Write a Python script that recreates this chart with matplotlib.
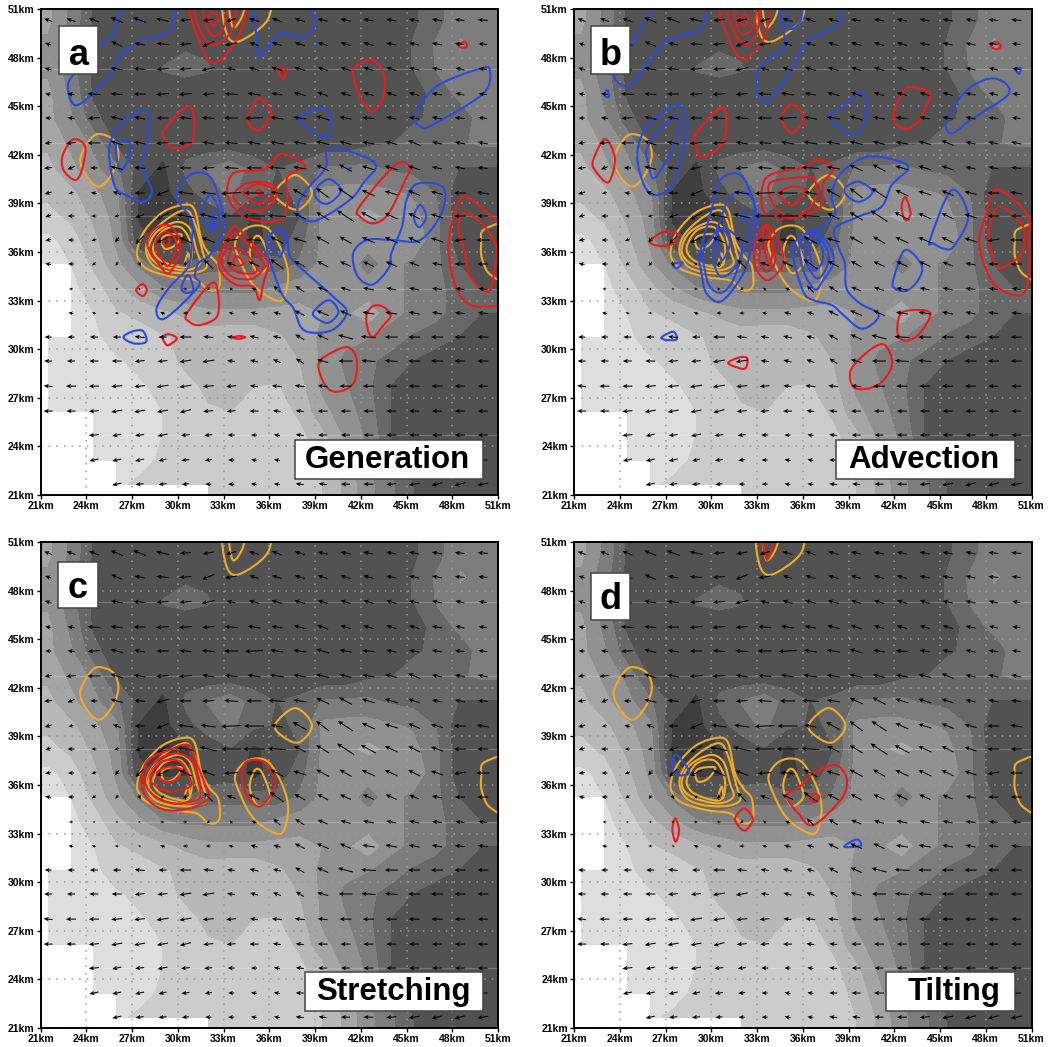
import numpy as np
import matplotlib
matplotlib.use("Agg")
import matplotlib.pyplot as plt
from matplotlib.colors import ListedColormap, BoundaryNorm
from matplotlib.patches import PathPatch, Rectangle
from matplotlib.path import Path

n = np.nan

# grid points of the field and the wind arrows (km)
x_km = [21.5, 23, 24.5, 26, 27.5, 29, 30.5, 32, 33.5, 35, 36.5, 38, 39.5, 41, 42.5, 44, 45.5, 47, 48.5, 50]
y_km = [50.32, 48.84, 47.3, 45.75, 44.27, 42.73, 41.19, 39.64, 38.22, 36.74,
        35.26, 33.72, 32.23, 30.75, 29.27, 27.72, 26.18, 24.7, 23.16, 21.67]
tick_km = [21, 24, 27, 30, 33, 36, 39, 42, 45, 48, 51]
tick_labels = ["21km", "24km", "27km", "30km", "33km", "36km", "39km", "42km", "45km", "48km", "51km"]

# shaded field, one row per y_km, larger is darker
field = [
    [4.5, 6, 7.6, 8, 8, 8, 8, 8, 8, 8, 8, 8, 8, 8, 8, 8, 7.6, 7, 6, 6],
    [5, 6.3, 7.7, 8, 8, 8, 7.6, 7.7, 8, 8, 8, 8, 8, 8, 8, 8, 7.4, 6.5, 5.7, 6],
    [5, 6.3, 7.7, 8, 8, 7.4, 7.2, 7.4, 8, 8, 8, 8, 8, 8, 8, 8, 7.4, 6.6, 6, 6.2],
    [4.5, 6, 7.6, 8, 8, 8, 8, 8, 8, 8, 8, 8, 8, 8, 8, 8, 8, 7, 6.5, 6.5],
    [4.5, 5.6, 7.2, 8, 8, 8, 8, 8, 8, 8, 8, 8, 8, 8, 8, 8, 7.6, 7.3, 7, 6.4],
    [4, 5, 6, 7.6, 8, 8, 8, 8, 8, 8, 8, 8, 8, 8, 7.6, 7.5, 7, 7, 6.8, 6.5],
    [3.5, 4.5, 5.5, 6.5, 7.8, 8.8, 7.2, 6.6, 6.1, 7, 7.5, 7.3, 6.6, 6.5, 6.5, 6.8, 7, 7, 7.5, 7.5],
    [3, 3.5, 4.5, 5.5, 8.7, 9, 7.8, 7, 6.5, 7.2, 7.6, 7.4, 5.5, 5.4, 5.4, 5.6, 5.9, 6.7, 8, 8],
    [2.5, 3, 4, 5.2, 8.8, 9, 8.7, 8, 7.5, 8.8, 8, 7.5, 5.5, 5, 4.5, 5, 5.5, 6.5, 8, 8],
    [1.8, 2.3, 3.5, 5, 8.2, 8.8, 8.7, 8, 7.8, 9, 8, 7, 5.5, 5.5, 5.5, 5, 5, 6.5, 8, 8],
    [1.5, 2, 3, 4.5, 6, 7.5, 7.5, 7, 7, 7, 7.2, 6.5, 5.5, 5.5, 6, 5.5, 6, 6.5, 7.5, 8],
    [n, 1.8, 2.3, 3.4, 4.5, 5.5, 6, 6, 6, 6, 5.5, 5.2, 5, 5, 5.5, 5.5, 6, 6.5, 7, 7.5],
    [n, 1.7, 2, 2.7, 3, 3.5, 4, 4.5, 4.5, 4.5, 4.5, 4.5, 4.8, 5, 4, 5.5, 6, 6.5, 7, 7.5],
    [1.5, 1.5, 1.8, 2.4, 2.4, 2.7, 3, 3.2, 3, 3, 3.6, 4.2, 5, 5.5, 5.7, 6.2, 6.8, 7, 7.5, 8],
    [1.5, 1.5, 1.6, 1.9, 2.2, 2.4, 3, 3.3, 3.4, 3.4, 3.5, 3.8, 5, 6, 6.5, 7, 7.5, 8, 8, 8.2],
    [1.5, 1.5, 1.5, 1.7, 1.9, 2.2, 2.5, 3, 3.3, 2.8, 2.7, 3.4, 5, 5.7, 6.5, 7.5, 8, 8, 8, 8.2],
    [1.5, 1.5, 1.5, 1.5, 1.7, 2, 2.3, 2.7, 2.8, 2.4, 2.3, 3, 4.5, 5.3, 6.3, 7.5, 8.2, 8.2, 8.2, 8.2],
    [n, n, 1.5, 1.5, 1.6, 2, 2.3, 2.5, 2.5, 2.3, 2.2, 2.5, 3.5, 5, 6, 7.5, 8.2, 8.2, 8.2, 8.2],
    [n, n, 1.7, 1.7, 1.8, 2.1, 2.2, 2.5, 2.5, 2.3, 2.2, 2.4, 3, 4.5, 5.8, 7, 8, 8.2, 8.2, 8.2],
    [n, n, n, 1.9, 2.1, 2.2, 2.3, 2.5, 2.5, 2.3, 2.2, 2.3, 2.8, 4, 5.5, 6.5, 7.5, 8, 8, 8],
]
blank_left_rows = [14, 15]
blank_bottom_cols = [3, 4, 5, 6]
field_levels = [0, 2, 2.8, 3.8, 4.8, 5.8, 6.7, 7.5, 8.6, 10]
field_grays = ["#dedede", "#cccccc", "#b8b8b8", "#a5a5a5", "#919191", "#7d7d7d", "#686868", "#525252", "#3e3e3e"]

# wind arrows, in picture pixels
wind_u = [
    [-8, -9, -10, -12, -13, -13, -11, -11, -10, -10, -10, -10, -10, -10, -10, -10, -10, -10, -10, -10],
    [-6, -8, -10, -11, -10, -12, -12, -12, -12, -9, -10, -10, -10, -10, -10, -10, -10, -10, -10, -9],
    [-7, -7, -9, -12, -12, -12, -12, -13, -9, -10, -11, -11, -10, -10, -10, -10, -10, -10, -9, -8],
    [-6, -7, -13, -12, -12, -13, -13, -12, -13, -13, -11, -12, -11, -10, -10, -10, -10, -10, -9, -8],
    [-6, -7, -12, -12, -11, -12, -12, -13, -14, -18, -13, -13, -13, -12, -12, -10, -10, -10, -10, -9],
    [-7, -10, -13, -12, -12, -13, -13, -12, -13, -13, -14, -13, -13, -12, -12, -12, -12, -10, -10, -10],
    [-8, -7, -7, -12, -11, -12, -12, -12, -14, -15, -17, -13, -13, -13, -13, -13, -12, -10, -10, -10],
    [-7, -5, -6, -8, -10, -12, -15, -15, -20, -20, -12, -14, -13, -15, -13, -13, -12, -12, -12, -12],
    [-6, -7, -5, -5, -9, -12, -17, -17, -20, -22, -18, -12, -13, -17, -15, -13, -12, -12, -12, -11],
    [-6, -6, -5, -4, -8, -12, -13, -13, -14, -14, -13, -13, -13, -12, -13, -13, -12, -12, -12, -13],
    [-6, -6, -4, -3, 2, 3, 0, -9, -9, -11, -14, -11, -11, -11, -11, -11, -10, -10, -10, -11],
    [n, -4, -3, -3, 3, 4, 4, -3, -3, -5, -7, -9, -10, -10, -11, -10, -10, -10, -9, -9],
    [n, -5, -4, -4, -3, -5, -5, -5, -5, -7, -7, -10, -12, -11, -12, -12, -11, -10, -10, -10],
    [-7, -7, -8, -8, -10, -8, -12, -10, -8, -9, -8, -9, -11, -15, -15, -13, -12, -12, -11, -11],
    [-8, -8, -9, -10, -10, -10, -12, -12, -8, -8, -8, -8, -11, -14, -14, -13, -12, -12, -11, -11],
    [-9, -10, -10, -11, -11, -12, -12, -11, -10, -8, -10, -10, -10, -12, -11, -11, -11, -11, -10, -10],
    [-9, -9, -10, -11, -11, -11, -11, -10, -9, -9, -8, -8, -10, -10, -10, -10, -10, -10, -10, -10],
    [n, n, -10, -9, -9, -10, -9, -8, -7, -6, -6, -8, -9, -9, -10, -10, -10, -10, -10, -10],
    [n, n, -9, -9, -9, -8, -8, -7, -6, -6, -6, -8, -9, -10, -10, -10, -10, -10, -10, -10],
    [n, n, n, -9, -8, -8, -7, -6, -6, -6, -6, -8, -8, -9, -10, -10, -11, -11, -11, -11],
]
wind_v = [
    [3, 3, 4, 5, 5, 3, -1, -2, -3, 3, 4, 3, 2, 2, 2, 2, 2, 2, 1, 1],
    [2, 2, 3, 5, 2, 1, -1, -5, -2, 3, 3, 3, 3, 3, 3, 2, 2, 2, 1, 1],
    [2, 2, 2, 2, 1, -1, -1, -3, 2, 3, 3, 3, 3, 3, 3, 3, 2, 2, 2, 1],
    [1, 1, 1, 1, 0, -1, -1, -1, 1, 2, 2, 3, 4, 3, 3, 3, 3, 2, 2, 1],
    [0, 1, -1, 3, 2, 0, 1, 1, 0, -1, 2, 2, 4, 2, 1, 2, 2, 2, 1, 1],
    [-1, -1, 0, 4, 2, -1, -1, 2, 1, 2, 2, 2, 3, 3, 2, 3, 5, 2, 2, 2],
    [-1, -3, 0, 3, 1, -3, 0, -1, 1, 0, 1, 2, 6, 7, 4, 4, 4, 2, 2, 1],
    [-2, -1, 1, 3, 0, -5, 2, 2, -1, 0, 2, 8, 10, 10, 6, 4, 5, 3, 0, 2],
    [-2, 0, 0, -1, -3, -7, 3, 4, 0, 0, 1, 6, 8, 11, 8, 6, 6, 4, 0, 0],
    [-1, 0, -2, -5, -8, -6, 6, 5, -1, 1, 7, 4, 7, 7, 6, 6, 6, 4, -2, 0],
    [1, 0, -3, -4, -5, 3, 6, 9, 3, 5, 10, 6, 6, 5, 5, 5, 4, 2, 0, 0],
    [n, 0, 0, 0, 0, 0, 0, -3, 3, 2, 7, 6, 4, 3, 2, 2, 2, 1, 1, 1],
    [n, 1, 1, 0, 1, 2, 0, 0, 1, 2, 2, 5, 5, 5, 2, 2, 2, 2, 1, 1],
    [0, 0, 0, 0, 1, 0, 0, 1, 1, 2, 2, 5, 5, 4, 1, 0, 0, 0, 0, 0],
    [0, 0, 0, 0, -1, -1, -2, -2, 1, 2, 3, 5, 3, 0, 1, 1, 0, 0, 0, 0],
    [1, 0, 0, -1, -1, -2, -2, -1, -1, 1, 1, 1, 1, 0, 0, 0, 0, 0, 0, 0],
    [0, 0, -1, -2, -2, -2, -3, -1, -1, 0, 1, 1, 0, 0, 0, 0, 0, 0, 0, 0],
    [n, n, -1, -2, -1, -2, -1, -1, 0, 0, 1, 1, 0, 0, 0, 0, 0, 0, 0, 0],
    [n, n, -2, -2, -2, -2, -1, -1, 0, 1, 1, 0, 0, 0, 0, 0, 0, 0, 0, 0],
    [n, n, n, -2, -1, -1, -1, 0, 0, 1, 1, 1, 1, 0, 0, -1, -2, -3, -3, -2],
]

# orange contours are the same in all four panels: ([x km], [y km])
orange_rings = [
    ([27.34, 27.84, 29.05, 30.47, 31.12, 31.56, 32.11, 32.65, 32.76, 32.43, 31.89, 31.23, 29.7, 28.17, 27.52],
     [36.1, 37.33, 38.47, 38.92, 38.57, 36.72, 35.79, 35.17, 34.04, 33.63, 33.73, 34.25, 34.45, 34.87, 35.38]),
    ([27.91, 28.28, 29.48, 30.58, 31.12, 31.67, 31.89, 31.01, 29.48, 28.39],
     [36.1, 37.13, 38.16, 38.57, 37.75, 35.9, 35.07, 34.7, 34.76, 35.17]),
    ([28.06, 28.61, 29.92, 30.79, 31.23, 31.45, 30.58, 29.26, 28.39],
     [36.2, 37.23, 37.85, 37.44, 36.1, 35.28, 34.87, 35.07, 35.48]),
    ([28.39, 29.05, 30.14, 30.79, 30.9, 30.58, 29.7, 28.72],
     [36.31, 37.33, 37.54, 36.72, 35.69, 35.07, 35.17, 35.59]),
    ([28.94, 29.26, 30.25, 29.81, 29.16], [36.72, 37.03, 37.07, 36.41, 36.2]),
    ([30.47, 30.69, 30.79], [35.28, 35.9, 35.24]),
    ([33.75, 34.29, 35.17, 36.04, 36.91, 37.24, 36.8, 35.6, 34.73, 34.07],
     [36.51, 37.33, 37.64, 37.33, 35.89, 34.45, 33.01, 33.43, 34.25, 35.48]),
    ([34.73, 35.06, 35.49, 36.04, 35.82, 35.28, 34.84], [36.1, 36.92, 36.82, 35.48, 34.97, 34.7, 35.38]),
    ([36.38, 37.7, 38.8, 38, 37.03], [39.7, 40.75, 39.7, 38.65, 38.9]),
    ([23.6, 24.15, 24.8, 25.8, 26.1, 25.57, 24.8, 24.04], [41.68, 42.81, 43.28, 42.91, 41.88, 40.65, 40.03, 40.65]),
    ([52, 50.1, 49.9, 49.95, 50.5, 52], [37.6, 37.4, 36.5, 35.6, 34.6, 34.2]),
    ([33, 33.2, 34, 35.8, 36, 34.5], [51.6, 49.5, 49, 50.2, 51.6, 52.2]),
    ([33.4, 33.6, 34.2, 34.4], [51.6, 49.9, 50.5, 51.6]),
]

generation_red = [
    ([28, 28.4, 29.38, 30.14, 30.04, 29.38, 28.72], [36.43, 37.35, 37.66, 36.74, 35.71, 34.68, 35.3]),
    ([28.5, 29.16, 29.82, 29.82, 29.38, 28.94], [36.53, 37.25, 36.84, 36.02, 35.13, 35.6]),
    ([29.01, 29.27, 29.49, 29.23], [36.63, 36.9, 36.63, 36.39]),
    ([32.66, 32.99, 33.64, 34.3, 35.39, 35.94, 35.61, 35.35, 34.95, 33.86, 32.99],
     [35.3, 36.32, 37.56, 37.15, 36.02, 35.3, 34.06, 33.03, 33.86, 33.96, 34.58]),
    ([32.88, 33.31, 33.75, 34.63, 35.5, 35.61, 34.95, 33.86, 33.2],
     [35.5, 36.43, 37.15, 36.43, 35.5, 34.99, 34.37, 34.37, 34.78]),
    ([33.31, 33.64, 34.41, 35.17, 34.95, 33.86], [35.4, 36.22, 35.91, 35.09, 34.68, 34.78]),
    ([33.64, 33.86, 34.34, 33.75], [35.4, 35.75, 35.3, 35.13]),
    ([33.28, 33.66, 35.62, 36.83, 38.36, 37.2, 37.2, 36.83, 35.84, 34.31],
     [39.42, 40.86, 41.1, 42.05, 41.3, 40.65, 39, 38.08, 37.87, 38.18]),
    ([33.7, 34.53, 35.84, 36.54, 35.84, 34.75, 33.87], [39.62, 40.24, 40.28, 39.72, 38.7, 38.59, 39.1]),
    ([34.31, 35.3, 36.39, 35.4, 34.64], [39.66, 40.2, 39.72, 39, 39.31]),
    ([35.08, 35.3, 35.56, 35.3], [39.72, 39.83, 39.68, 39.56]),
    ([30.7, 31.47, 32.34, 33.55, 34.31, 34.31, 32.5], [51.6, 48.88, 47.65, 48.67, 50.11, 51.6, 52.2]),
    ([31.03, 31.47, 32.34, 33.44, 33.76, 33.66, 32.3], [51.6, 49.7, 48.78, 49.5, 50.32, 51.6, 52.2]),
    ([31.58, 31.91, 32.45, 33.11, 33.22, 32.4], [51.6, 49.9, 49.33, 50.11, 51.6, 52.2]),
    ([32, 32.34, 32.67, 32.34], [50.53, 50.77, 50.42, 49.95]),
    ([36.63, 37.11, 36.89], [47.23, 47.28, 46.66]),
    ([41.57, 42.72, 43.49, 43.49, 42.79, 42.07, 41.63], [47.34, 47.85, 47.03, 45.6, 44.66, 45.38, 46.41]),
    ([48.41, 48.81, 48.97, 48.53], [48.78, 48.98, 48.67, 48.63]),
    ([34.64, 35.3, 36.06, 36.06, 35.3, 34.64], [44.46, 45.49, 44.77, 44.25, 43.49, 43.94]),
    ([29.17, 30.81, 30.99, 29.72, 29.17], [43.63, 45.01, 42.91, 42.4, 42.91]),
    ([22.46, 23.16, 23.93, 23.71, 23.27, 22.51], [41.99, 42.95, 42.5, 41.06, 40.44, 41.06]),
    ([41.92, 44.26, 45.2, 45.02, 43.82, 42.84, 41.96], [38.8, 41.37, 41.27, 40.65, 38.38, 37.77, 38.18]),
    ([47.75, 48.29, 48.84, 50.05, 52, 52, 49.83, 48.74, 48.08],
     [36.53, 38.8, 39.41, 38.6, 36.6, 33.2, 32.63, 33.04, 34.27]),
    ([48.74, 49.93, 50.88, 50.81, 50.38, 49.18, 48.85, 48.41],
     [38.43, 37.77, 36.33, 35.1, 33.55, 34.47, 35.92, 37.35]),
    ([27.27, 27.71, 27.97, 27.71], [33.65, 34.02, 33.65, 33.28]),
    ([29.02, 29.39, 29.94, 29.39, 29.18], [30.73, 30.93, 30.66, 30.25, 30.36]),
    ([33.61, 34.09, 34.42, 33.98], [30.73, 30.81, 30.73, 30.64]),
    ([30.6, 32.24, 32.67, 32.56, 31.47, 30.77], [32.21, 34.1, 33.24, 32, 31.49, 31.69]),
    ([42.36, 42.73, 43.38, 43.97, 43.49, 42.84, 42.51], [32, 32.62, 32.66, 32.1, 31.49, 30.77, 31.08]),
    ([39.23, 40.21, 41.2, 41.74, 41.52, 40.43, 39.67], [29.12, 29.84, 30.11, 29.33, 27.89, 27.37, 27.78]),
]
generation_blue = [
    ([27, 26.1, 25.8, 24.9, 23.5, 22.8, 23.3, 24.8, 25.6, 26.2, 27.5, 29.3, 29.7, 29.7, 28],
     [51.6, 50.5, 49.5, 48.7, 47.3, 46.3, 45.05, 46.1, 47, 48.1, 49, 49.5, 50.2, 51.6, 52.2]),
    ([35, 35.1, 35.3, 36.1, 36.9, 38.2, 39, 38.2, 36.6], [51.6, 49.9, 48.1, 48.9, 49.5, 49.3, 50.1, 51.6, 52.2]),
    ([45.5, 46, 46.8, 50.05, 50.45, 49.8, 48.5, 46.8], [44.46, 43.7, 43.9, 45.8, 47.3, 47.3, 46.9, 46.1]),
    ([37.9, 39, 39.9, 39.95, 39.3, 38.5], [44.25, 44.77, 44.67, 43.2, 43.2, 43.7]),
    ([27.75, 28.1, 28, 27.65, 28.3, 27.75, 26.65, 25.9, 25.5, 25.7, 26.45],
     [44.77, 44.15, 42.7, 41.3, 39.8, 39.1, 39.5, 40, 41.9, 43.1, 44.05]),
    ([26, 26.8, 26.8, 26.3, 26.05], [42.8, 42.8, 41.9, 41, 41.5]),
    ([39.8, 41.3, 43, 42.2, 41.5, 40.2, 38.9, 38, 37.9, 38.6, 39.7],
     [42.3, 42.2, 41.4, 40.3, 39.4, 38.5, 37.9, 38.2, 39, 40, 41.2]),
    ([39, 39.9, 40.7, 39.9, 39.2], [39.8, 40.5, 39.8, 39, 39.2]),
    ([41.5, 42.4, 44.1, 45.9, 47.3, 47.4, 45.7, 45, 44.7, 44, 43.9, 42.8, 41.8],
     [35.9, 36.74, 36.74, 36.74, 38.4, 40, 40.2, 39.2, 37.55, 35.9, 35.1, 34, 34.5]),
    ([45.5, 45.9, 46.3, 45.9, 45.6], [38.3, 38.9, 38.2, 37.55, 37.75]),
    ([29.93, 30.8, 32.11, 32.88, 33.03, 32.88, 32.11, 31.35, 31.13, 31.35, 29.16, 28.61, 29.49, 30.69, 30.91, 30.91],
     [39.41, 40.75, 40.65, 38.79, 37.97, 37.15, 35.81, 35.3, 34.47, 33.86, 31.9, 32.52, 33.86, 35.09, 36.53, 37.97]),
    ([30.25, 30.69, 31.02, 30.47], [33.86, 34.58, 33.65, 33.49]),
    ([31.57, 32.11, 32.72, 32.33, 31.78], [38.49, 39.51, 38.49, 37.35, 37.77]),
    ([32.15, 32.29, 32.37, 32.24], [38.18, 38.49, 37.77, 37.45]),
    ([35.84, 36.5, 37.15, 37.37, 38.46, 39.34, 40.32, 41.09, 40.32, 39.12, 38.14, 37.59, 36.93, 36.39, 35.95],
     [36.73, 37.35, 36.94, 35.71, 34.68, 33.96, 33.13, 32.31, 31.28, 31.01, 31.28, 32.52, 33.24, 34.47, 35.71]),
    ([36.05, 36.7, 37.07, 36.7, 36.22], [36.94, 37.46, 36.84, 35.71, 36.43]),
    ([38.9, 39.89, 40.54, 39.89, 39.12], [32.31, 33.03, 32.31, 31.63, 31.9]),
    ([26.44, 26.98, 27.7, 27.93, 27.1], [30.73, 31.08, 31.14, 30.46, 30.36]),
    ([27.55, 27.75, 27.7], [50.25, 50.25, 50.15]),
    ([41.2, 41.35, 41.25], [41.15, 41.2, 41.05]),
]

advection_red = [
    ([22.26, 23.03, 23.68, 23.25, 22.37], [41.68, 42.97, 41.78, 40.3, 41.06]),
    ([29, 30.74, 30.96, 30.35, 29.26, 29], [43.32, 44.93, 43.32, 42.29, 41.88, 42.71]),
    ([34.61, 35.27, 36.08, 35.27], [44.25, 45.13, 44.25, 43.38]),
    ([41.93, 42.64, 43.51, 44.34, 43.84, 43.57, 42.8], [44.25, 46, 46.14, 45.69, 44.46, 44.04, 43.59]),
    ([48.32, 48.72, 48.98, 48.65], [48.74, 48.98, 48.67, 48.53]),
    ([30.44, 31.27, 32.19, 33.24, 33.68, 33.79, 32.2], [51.6, 48.88, 47.9, 48.88, 49.91, 51.6, 52.2]),
    ([30.95, 31.38, 32.19, 32.98, 33.13, 32.1], [51.6, 49.81, 48.82, 49.5, 51.6, 52.2]),
    ([31.49, 31.71, 32.19, 32.8, 32.91, 32.2], [51.6, 49.91, 49.44, 50.01, 51.6, 52.2]),
    ([31.93, 32.19, 32.41, 32.19], [50.32, 50.73, 50.32, 49.95]),
    ([33.3, 33.85, 36.25, 36.91, 38, 37.35, 37.17, 35.6, 33.96, 33.41],
     [39.72, 40.75, 41.27, 41.72, 41.16, 40.24, 38.8, 38.18, 38.18, 38.59]),
    ([33.74, 34.28, 36.47, 36.86, 36.69, 35.27, 34.18], [39.93, 40.44, 40.61, 40.24, 39, 38.08, 38.8]),
    ([34.39, 35.27, 36.14, 35.38, 34.72], [39.62, 40.03, 39.82, 38.9, 39.21]),
    ([32.8, 32.97, 33.63, 34.39, 34.72, 33.74, 32.97], [35.81, 36.84, 37.66, 36.74, 35.3, 34.27, 34.89]),
    ([33.2, 33.52, 33.96, 34.18, 33.63, 33.2], [36.02, 37.56, 36.74, 35.4, 34.78, 35.3]),
    ([33.52, 33.74, 34.02, 33.81], [36.12, 37.05, 36.12, 35.19]),
    ([25.98, 26.74, 27.73, 27.51, 26.63], [36.63, 37.19, 37.15, 36.53, 36.37]),
    ([42.48, 42.74, 43.07, 42.7], [38.8, 39.37, 38.38, 37.97]),
    ([47.57, 48.05, 48.71, 50.68, 50.85, 50.79, 50.24, 48.71, 47.95],
     [36.74, 38.38, 39.87, 38.38, 36.74, 34.27, 33.3, 33.86, 35.09]),
    ([48.17, 48.49, 49.15, 50.46, 50.35, 49.58, 48.82], [36.74, 38.38, 38.75, 37.56, 35.92, 35.3, 35.09]),
    ([42.2, 42.59, 44.34, 43.68, 42.81, 42.33], [31.39, 32.31, 32.27, 30.98, 30.52, 30.77]),
    ([31.12, 31.88, 32.36, 32.21, 31.44], [29.19, 29.5, 29.43, 28.8, 28.96]),
    ([39.16, 40.41, 41.39, 41.85, 40.93, 39.43], [28.72, 29.95, 30.26, 29.02, 27.79, 27.6]),
]
advection_blue = [
    ([26.57, 25.7, 24.72, 23.62, 24.61, 25.59, 26.9, 27.78, 29.2, 29.52, 29.42, 28],
     [51.6, 50.32, 48.67, 46.93, 46.21, 47.34, 48.88, 49.29, 49.7, 50.32, 51.6, 52.2]),
    ([34.55, 34.77, 34.88, 33.13, 33.02, 33.72, 35.21, 36.3, 38.38, 38.16, 36.4],
     [51.6, 49.5, 48.67, 47.34, 45.79, 45.32, 47.23, 48.98, 50.1, 51.6, 52.2]),
    ([34.99, 35.16, 35.86, 35.97, 35.5], [51.6, 49.81, 50.32, 51.6, 52.2]),
    ([23.01, 23.19, 23.3, 23.08], [45.79, 46, 45.59, 45.59]),
    ([49.96, 50.29, 50.18], [47.28, 47.34, 46.99]),
    ([37.74, 38.7, 39.69, 40.13, 40.03, 39.42, 38.4], [44.35, 45, 45.84, 45.38, 43.94, 43.22, 43.67]),
    ([45.43, 46.79, 48.54, 49.52, 47, 45.76], [44.15, 46, 46.72, 45.79, 44.15, 43.32]),
    ([25.15, 25.65, 27.51, 28.27, 28.27, 27.51, 26.42, 25.65], [41.88, 43.53, 45.03, 44.56, 42.91, 40.24, 39.52, 40.03]),
    ([25.76, 26.63, 27.84, 27.73, 26.96, 26.2, 25.87], [42.29, 43.63, 44.35, 42.91, 41.47, 40.54, 41.47]),
    ([39.64, 41.06, 42.92, 41.83, 41.17, 39.64, 38.11, 38.33, 38.77, 38.87, 39.75, 40.95, 40.62, 39.75,
      38.55, 37.89, 36.69, 36.03, 35.38, 35.6, 37.13, 38.11, 37.89, 38.33],
     [41.68, 41.88, 41.27, 40.13, 38.8, 38.18, 37.46, 36.33, 35.3, 33.75, 32.83, 32.21, 31.59, 31.29,
      32.21, 32.73, 33.03, 33.55, 35.71, 36.74, 37.46, 38.38, 39.41, 40.65]),
    ([35.81, 36.69, 37.78, 38, 37.35, 36.8, 36.03], [36.53, 37.36, 36.33, 35.3, 34.27, 33.69, 34.89]),
    ([36.14, 36.8, 37.56, 37.67, 37.02, 36.36], [36.33, 37.05, 36.22, 35.3, 34.37, 35.09]),
    ([36.47, 36.91, 37.3, 37.24, 36.69], [36.33, 36.74, 36.12, 35.3, 34.89]),
    ([29.26, 30.02, 30.57, 31.99, 32.97, 32.75, 32.1, 30.68, 29.69, 29.37],
     [35.92, 38.59, 40.44, 40.69, 38.38, 36.74, 34.68, 32.97, 33.45, 34.68]),
    ([29.48, 30.35, 31.22, 32.32, 32.86, 32.1, 31.44, 30.68, 29.91, 29.58],
     [36.12, 37.36, 39.41, 39.62, 38.59, 36.12, 34.27, 33.49, 33.86, 34.89]),
    ([30.13, 30.68, 31.66, 31.99, 31.44, 30.68, 30.24], [36.33, 37.46, 36.95, 35.92, 34.89, 34.47, 35.09]),
    ([30.35, 30.79, 31.22, 30.68], [37.05, 37.36, 36.53, 35.5]),
    ([31.92, 32.32, 32.32], [38.18, 38.49, 37.87]),
    ([27.51, 28.12, 27.73], [35.26, 35.34, 34.99]),
    ([44.34, 45.76, 46.85, 45.87, 45.21, 44.56], [36.74, 39.82, 38.18, 36.33, 36.22, 36.53]),
    ([41.94, 42.7, 43.79, 43.57, 42.81, 42.04], [34.27, 36.12, 35.2, 34.27, 33.61, 33.75]),
    ([38.77, 39.64, 40.58, 39.75, 38.98], [39.93, 40.34, 39.72, 39.1, 39.41]),
    ([26.74, 27.51, 27.73, 27.07], [30.73, 31.08, 30.61, 30.57]),
]

stretching_red = [
    ([27.63, 27.96, 29.16, 30.69, 31.24, 31.79, 32, 30.8, 29.27, 28.18],
     [36, 37.44, 38.05, 38.47, 37.33, 36, 35.17, 34.56, 34.45, 34.97]),
    ([27.85, 28.51, 29.93, 31.02, 31.46, 31.24, 29.71, 28.4], [36.3, 37.44, 37.95, 37.33, 35.69, 35.07, 34.87, 35.38]),
    ([28.18, 28.94, 30.15, 30.8, 30.8, 29.6, 28.62], [36.51, 37.44, 37.44, 36.41, 35.89, 35.59, 35.89]),
    ([28.62, 29.38, 30.26, 29.82, 29.16], [36.72, 37.13, 36.92, 36.31, 36.2]),
    ([34.19, 34.52, 35.61, 36.38, 36.16, 35.35, 34.52], [36.6, 37.44, 37.44, 36.31, 35.48, 34.66, 35.38]),
]
stretching_blue = []

tilting_red = [
    ([34.95, 35.82, 36.7, 38.12, 38.88, 38.55, 36.7, 35.71], [35.32, 35.9, 36.72, 37.23, 36.41, 35.17, 33.53, 34.25]),
    ([36.43, 36.76, 37.09, 36.74], [35.24, 35.48, 35.24, 34.95]),
    ([31.56, 32.15, 32.72, 32.17], [33.88, 34.56, 33.88, 33.18]),
    ([27.45, 27.63, 27.89, 27.67], [33.22, 33.94, 33.22, 32.5]),
    ([33.33, 33.66, 34.18, 33.7], [51.6, 49.9, 51.6, 52.2]),
]
tilting_blue = [
    ([27.41, 27.67, 28.56, 27.95], [36.92, 37.89, 36.82, 36.6]),
    ([38.71, 39.53, 39.8], [32.19, 32.64, 32.25]),
]

panel_names = ["Generation", "Advection", "Stretching", "Tilting"]
panel_letters = ["a", "b", "c", "d"]
panel_red = [generation_red, advection_red, stretching_red, tilting_red]
panel_blue = [generation_blue, advection_blue, stretching_blue, tilting_blue]

W, H = 1049, 1047
panel_px = [(40.5, 9), (574, 9), (40.5, 542), (574, 542)]
letter_box_px = [(59, 26, 39, 48), (591, 26, 39, 48), (58, 562, 40, 46), (591, 573, 39, 47)]
letter_baseline_px = [65, 65, 598, 609]
name_box_px = [(295, 440, 188, 39), (836, 440, 179, 39), (305, 972, 178, 39), (886, 972, 129, 39)]
name_center_px = [387.5, 923.5, 393, 954]

plt.rcParams["font.family"] = ["Liberation Sans", "DejaVu Sans"]


def smooth_closed(xs, ys):
    # closed curve through the read points
    p = np.column_stack([xs, ys])
    m = len(p)
    verts = [p[0]]
    codes = [Path.MOVETO]
    for i in range(m):
        c1 = p[i] + (p[(i + 1) % m] - p[i - 1]) / 6
        c2 = p[(i + 1) % m] - (p[(i + 2) % m] - p[i]) / 6
        verts += [c1, c2, p[(i + 1) % m]]
        codes += [Path.CURVE4, Path.CURVE4, Path.CURVE4]
    return Path(verts, codes)


def draw_curves(ax, curves, color, z):
    for xs, ys in curves:
        ax.add_patch(PathPatch(smooth_closed(xs, ys), facecolor="none", edgecolor=color, lw=1.5, zorder=z))


field_arr = np.array(field, dtype=float)
padded = np.pad(field_arr, 1, mode="edge")
padded[np.array(blank_left_rows) + 1, 0] = np.nan
padded[-1, np.array(blank_bottom_cols) + 1] = np.nan
x_pad = [21] + x_km + [51]
y_pad = [51] + y_km + [21]
cmap = ListedColormap(field_grays)
norm = BoundaryNorm(field_levels, cmap.N)

fig = plt.figure(figsize=(W / 100, H / 100), dpi=100)

for i in range(4):
    left, top = panel_px[i]
    ax = fig.add_axes([left / W, 1 - (top + 486) / H, 457.5 / W, 486 / H])
    ax.contourf(x_pad, y_pad, padded, levels=field_levels, cmap=cmap, norm=norm, corner_mask=False, zorder=1)
    for yy in [47.3, 42.73, 38.22, 33.72, 24.7]:
        ax.axhline(yy, color="white", alpha=0.22, lw=0.9, zorder=2)
    ax.set_xlim(21, 51)
    ax.set_ylim(21, 51)
    ax.set_xticks(tick_km)
    ax.set_yticks(tick_km)
    ax.set_xticklabels(tick_labels)
    ax.set_yticklabels(tick_labels)
    ax.tick_params(length=3, width=1, pad=1.5, labelsize=7.5, colors="black")
    for lab in ax.get_xticklabels() + ax.get_yticklabels():
        lab.set_fontweight("bold")
    ax.grid(True, color="#9a9a9a", linestyle=(0, (1, 4)), lw=1.1, zorder=3)
    ax.set_axisbelow(False)
    for sp in ax.spines.values():
        sp.set_linestyle((0, (3, 1)))
        sp.set_linewidth(1.4)
        sp.set_zorder(9)

    draw_curves(ax, orange_rings, "#f0ab26", 4)
    draw_curves(ax, panel_red[i], "#ee1a1a", 5)
    draw_curves(ax, panel_blue[i], "#2a4be0", 5)

    ax.quiver(x_km, y_km, np.array(wind_u, dtype=float), np.array(wind_v, dtype=float), angles="uv",
              scale_units="dots", scale=1, units="dots", width=1.05, headwidth=4.5, headlength=5,
              headaxislength=3.8, minshaft=1.2, pivot="mid", color="black", zorder=6)

    bx, by, bw, bh = letter_box_px[i]
    fig.add_artist(Rectangle((bx / W, 1 - (by + bh) / H), bw / W, bh / H, transform=fig.transFigure,
                             facecolor="white", edgecolor="#444444", lw=1.1, zorder=10))
    fig.text((bx + bw / 2) / W, 1 - letter_baseline_px[i] / H, panel_letters[i], fontsize=26, fontweight="bold",
             ha="center", va="baseline", zorder=11)
    bx, by, bw, bh = name_box_px[i]
    fig.add_artist(Rectangle((bx / W, 1 - (by + bh) / H), bw / W, bh / H, transform=fig.transFigure,
                             facecolor="white", edgecolor="#444444", lw=1.1, zorder=10))
    fig.text(name_center_px[i] / W, 1 - (by + 28) / H, panel_names[i], fontsize=22.5, fontweight="bold",
             ha="center", va="baseline", zorder=11)

fig.savefig("out.png", dpi=100)
